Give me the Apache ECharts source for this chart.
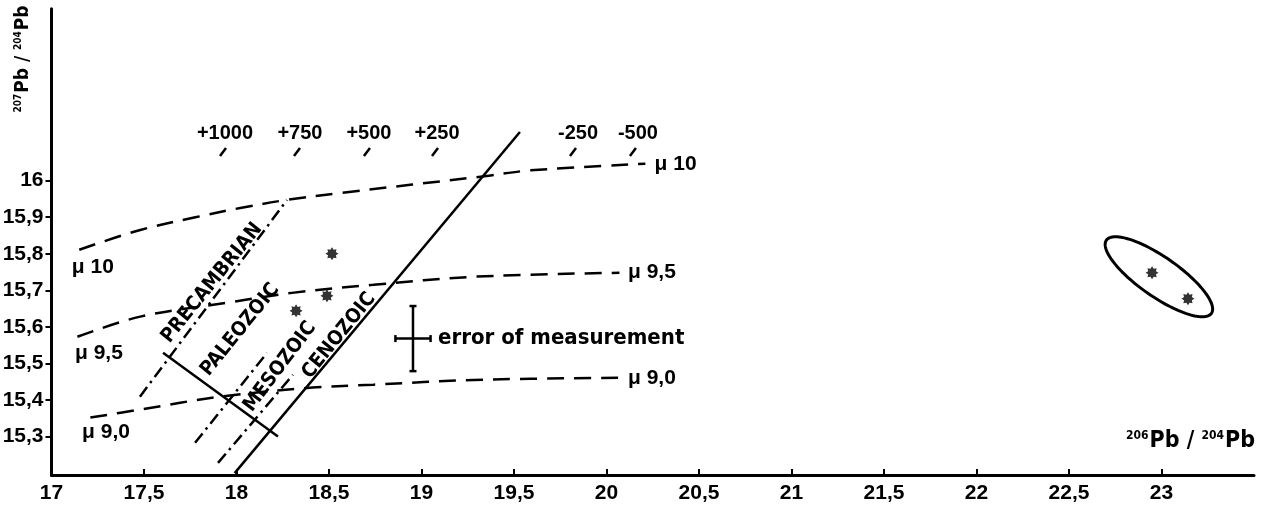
<!DOCTYPE html>
<html>
<head>
<meta charset="utf-8">
<script src="https://cdn.jsdelivr.net/npm/echarts@6/dist/echarts.min.js"></script>
<style>
html,body{margin:0;padding:0;background:#fff;}
#chart{width:1268px;height:509px;}
</style>
</head>
<body>
<div id="chart"></div>
<script>
// ---------- data ----------
const xTicks = [17, 17.5, 18, 18.5, 19, 19.5, 20, 20.5, 21, 21.5, 22, 22.5, 23];
const yTicks = [15.3, 15.4, 15.5, 15.6, 15.7, 15.8, 15.9, 16];

// growth curves (mu = 10, 9.5, 9.0)
const mu10 = [[17.15,15.811],[17.48,15.865],[17.79,15.901],[18.02,15.925],[18.27,15.947],[18.56,15.966],[19.34,16.012],[19.59,16.028],[20.21,16.046]];
const mu95 = [[17.14,15.573],[17.48,15.628],[17.95,15.666],[18.30,15.693],[18.74,15.715],[19.28,15.737],[20.07,15.748]];
const mu90 = [[17.21,15.352],[17.48,15.374],[17.91,15.409],[18.41,15.434],[18.74,15.442],[19.28,15.455],[20.07,15.461]];

// isochrons / boundaries
const isoPrecambrian = [[17.478,15.409],[18.273,15.947]];
const isoPaleozoic   = [[17.776,15.283],[18.165,15.529]];
const isoMesozoic    = [[17.900,15.228],[18.305,15.469]];
const geochron       = [[17.99,15.200],[19.532,16.133]];
const crossLine      = [[17.603,15.529],[18.224,15.300]];

// samples
const samplesLeft  = [[18.516,15.800],[18.489,15.685],[18.322,15.644]];
const samplesRight = [[22.949,15.748],[23.143,15.677]];

// envelope around right samples
const ellipseCenter = [22.986, 15.737];
const ellipseAxisEnd = [23.270, 15.637];
const ellipseRatio = 0.31;

// error of measurement
const errCenter = [18.954, 15.568];
const errX = 0.095;
const errY = 0.089;
const errLabel = 'error of measurement';
const errLabelPos = [19.089, 15.568];

// age labels along the top
const ageLabels = ['+1000', '+750', '+500', '+250', '-250', '-500'];
const ageLabelX = [17.938, 18.343, 18.716, 19.084, 19.846, 20.170];
const ageLabelY = 16.13;
const ageTickX  = [17.927, 18.327, 18.705, 19.073, 19.819, 20.143];
const ageTickY  = 16.078;

// mu labels
const muLabels = ['μ 10', 'μ 9,5', 'μ 9,0'];
const muLeftX  = [17.11, 17.127, 17.165];
const muLeftY  = [15.764, 15.529, 15.313];
const muRightX = [20.26, 20.116, 20.116];
const muRightY = [16.045, 15.750, 15.461];

// era labels
const eraNames = ['PRECAMBRIAN', 'PALEOZOIC', 'MESOZOIC', 'CENOZOIC'];
const eraX = [17.867, 18.019, 18.235, 18.554];
const eraY = [15.720, 15.592, 15.491, 15.576];
const eraRotation = [51, 51, 53, 51];

// ---------- styles ----------
const NUMF = "'Liberation Sans', Arial, sans-serif";
const COND = "'DejaVu Sans Condensed', 'DejaVu Sans', sans-serif";
const BLACK = '#000';
const fmt = v => String(Math.round(v * 10) / 10).replace('.', ',');

function starPath() {
  let d = '';
  for (let i = 0; i < 16; i++) {
    const r = i % 2 === 0 ? 10 : 6.5;
    const a = i * Math.PI / 8;
    const x = (10 + r * Math.sin(a)).toFixed(2), y = (10 - r * Math.cos(a)).toFixed(2);
    d += (i === 0 ? 'M' : 'L') + x + ',' + y;
  }
  return 'path://' + d + 'Z';
}

function lineSeries(data, dash, smooth) {
  return {
    type: 'line', data: data, showSymbol: false, symbol: 'none', smooth: smooth ? 0.35 : false,
    silent: true, animation: false,
    lineStyle: { color: BLACK, width: 2.5, type: dash, cap: 'butt' }
  };
}

function textSeries(xs, ys, texts, align, size, family, rot) {
  return {
    type: 'custom', silent: true, animation: false,
    data: xs.map((x, i) => [x, Array.isArray(ys) ? ys[i] : ys]),
    renderItem: function (params, api) {
      const p = api.coord([api.value(0), api.value(1)]);
      const r = rot ? rot[params.dataIndex] : 0;
      return {
        type: 'text', x: p[0], y: p[1], rotation: r * Math.PI / 180,
        style: {
          text: texts[params.dataIndex], fill: BLACK, fontSize: size, fontWeight: 'bold',
          fontFamily: family, align: align, verticalAlign: 'middle'
        }
      };
    }
  };
}

function titleRich(pbSize, supSize) {
  return {
    sup: { fontSize: supSize, fontWeight: 'bold', fontFamily: COND, fill: BLACK, verticalAlign: 'top', padding: [0, 1, Math.round(supSize * 0.8), 0] },
    pb: { fontSize: pbSize, fontWeight: 'bold', fontFamily: COND, fill: BLACK },
    sl: { fontSize: pbSize, fontWeight: 'bold', fontFamily: COND, fill: BLACK }
  };
}

const chart = echarts.init(document.getElementById('chart'), null, { renderer: 'canvas' });

const option = {
  animation: false,
  backgroundColor: '#fff',
  grid: { left: 51.5, right: 14, top: 8.7, bottom: 34, containLabel: false, outerBoundsMode: 'none' },
  xAxis: {
    type: 'value', min: 17, max: 23.5,
    axisLine: { show: true, onZero: false, lineStyle: { color: BLACK, width: 3 } },
    axisTick: { show: true, inside: true, length: 6, customValues: xTicks, lineStyle: { color: BLACK, width: 2 } },
    axisLabel: { customValues: xTicks, formatter: fmt, color: BLACK, fontSize: 21, fontWeight: 'bold', fontFamily: NUMF, margin: 8 },
    splitLine: { show: false }
  },
  yAxis: {
    type: 'value', min: 15.195, max: 16.47,
    axisLine: { show: true, onZero: false, lineStyle: { color: BLACK, width: 3 } },
    axisTick: { show: true, inside: false, length: 6, customValues: yTicks, lineStyle: { color: BLACK, width: 2 } },
    axisLabel: { customValues: yTicks, formatter: fmt, color: BLACK, fontSize: 21, fontWeight: 'bold', fontFamily: NUMF, margin: 8 },
    splitLine: { show: false }
  },
  graphic: [
    {
      type: 'text', x: 23, y: 59, rotation: Math.PI / 2,
      style: {
        text: '{sup|207}{pb|Pb}{sl| / }{sup|204}{pb|Pb}',
        align: 'center', verticalAlign: 'middle', fill: BLACK, rich: titleRich(19, 10)
      }
    },
    {
      type: 'text', x: 1255, y: 441,
      style: {
        text: '{sup|206}{pb|Pb}{sl| / }{sup|204}{pb|Pb}',
        align: 'right', verticalAlign: 'middle', fill: BLACK, rich: titleRich(23, 12)
      }
    }
  ],
  series: [
    lineSeries(mu10, [17, 10], true),
    lineSeries(mu95, [17, 10], true),
    lineSeries(mu90, [17, 10], true),
    lineSeries(isoPrecambrian, [12, 5, 2.5, 5], false),
    lineSeries(isoPaleozoic, [12, 5, 2.5, 5], false),
    lineSeries(isoMesozoic, [12, 5, 2.5, 5], false),
    lineSeries(geochron, 'solid', false),
    lineSeries(crossLine, 'solid', false),
    {
      type: 'scatter', data: samplesLeft.concat(samplesRight), symbol: starPath(), symbolSize: 13,
      itemStyle: { color: BLACK }, silent: true, animation: false
    },
    {
      type: 'custom', silent: true, animation: false, data: [ellipseCenter.concat(ellipseAxisEnd)],
      renderItem: function (params, api) {
        const c = api.coord([api.value(0), api.value(1)]);
        const e = api.coord([api.value(2), api.value(3)]);
        const dx = e[0] - c[0], dy = e[1] - c[1];
        const a = Math.hypot(dx, dy), b = a * ellipseRatio, th = Math.atan2(dy, dx);
        const pts = [];
        for (let i = 0; i < 120; i++) {
          const t = i / 120 * Math.PI * 2;
          pts.push([c[0] + a * Math.cos(t) * Math.cos(th) - b * Math.sin(t) * Math.sin(th),
                    c[1] + a * Math.cos(t) * Math.sin(th) + b * Math.sin(t) * Math.cos(th)]);
        }
        return { type: 'polygon', shape: { points: pts }, style: { fill: 'none', stroke: BLACK, lineWidth: 3 } };
      }
    },
    {
      type: 'custom', silent: true, animation: false, data: [[errCenter[0], errCenter[1], errX, errY]],
      renderItem: function (params, api) {
        const x = api.value(0), y = api.value(1), ex = api.value(2), ey = api.value(3);
        const top = api.coord([x, y + ey]), bot = api.coord([x, y - ey]);
        const lft = api.coord([x - ex, y]), rgt = api.coord([x + ex, y]);
        const st = { stroke: BLACK, lineWidth: 2.5 };
        const cap = 3.5;
        return {
          type: 'group', children: [
            { type: 'line', shape: { x1: top[0], y1: top[1], x2: bot[0], y2: bot[1] }, style: st },
            { type: 'line', shape: { x1: lft[0], y1: lft[1], x2: rgt[0], y2: rgt[1] }, style: st },
            { type: 'line', shape: { x1: top[0] - cap, y1: top[1], x2: top[0] + cap, y2: top[1] }, style: st },
            { type: 'line', shape: { x1: bot[0] - cap, y1: bot[1], x2: bot[0] + cap, y2: bot[1] }, style: st },
            { type: 'line', shape: { x1: lft[0], y1: lft[1] - cap, x2: lft[0], y2: lft[1] + cap }, style: st },
            { type: 'line', shape: { x1: rgt[0], y1: rgt[1] - cap, x2: rgt[0], y2: rgt[1] + cap }, style: st }
          ]
        };
      }
    },
    {
      type: 'custom', silent: true, animation: false, data: ageTickX.map(x => [x, ageTickY]),
      renderItem: function (params, api) {
        const p = api.coord([api.value(0), api.value(1)]);
        return { type: 'line', shape: { x1: p[0] - 3, y1: p[1] + 4, x2: p[0] + 3, y2: p[1] - 4 }, style: { stroke: BLACK, lineWidth: 2.5 } };
      }
    },
    textSeries(ageLabelX, ageLabelY, ageLabels, 'center', 20, NUMF),
    textSeries(muLeftX, muLeftY, muLabels, 'left', 21, NUMF),
    textSeries(muRightX, muRightY, muLabels, 'left', 21, NUMF),
    textSeries(eraX, eraY, eraNames, 'center', 20, COND, eraRotation),
    textSeries([errLabelPos[0]], [errLabelPos[1]], [errLabel], 'left', 22, COND)
  ]
};

chart.setOption(option);
</script>
</body>
</html>
